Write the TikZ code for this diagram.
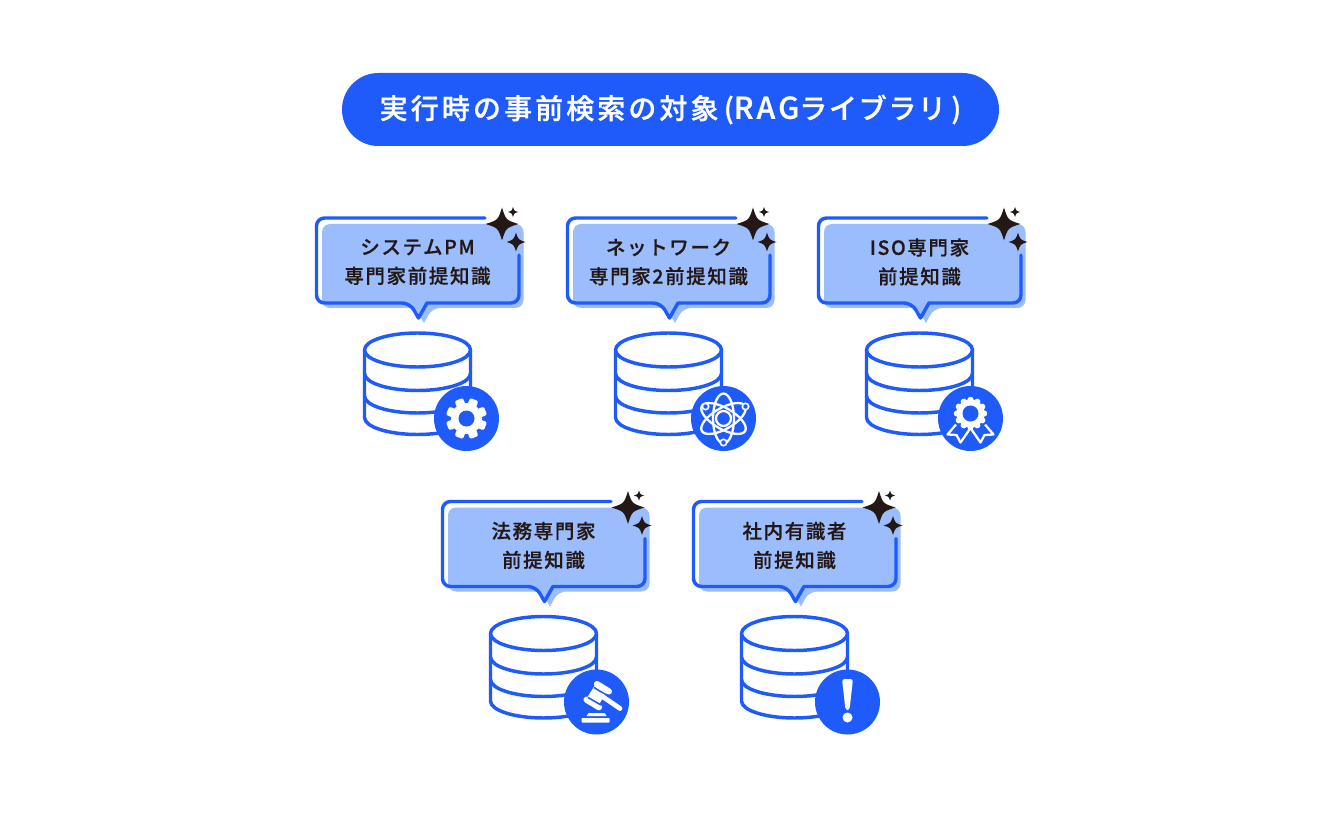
\documentclass[tikz,border=0pt]{standalone}
\usepackage{fontspec}
\setmainfont{Noto Sans CJK JP}
\newfontfamily\titlefont[LetterSpace=11,FakeBold=0.9]{Noto Sans CJK JP Medium}
\newfontfamily\titlekana[LetterSpace=6,FakeBold=0.9]{Noto Sans CJK JP Medium}
\newfontfamily\labelfont[LetterSpace=8.5,FakeBold=0.6]{Noto Sans CJK JP Medium}
\definecolor{mainblue}{HTML}{1F5BFA}
\definecolor{softblue}{HTML}{9BBDFD}
\definecolor{inkdark}{HTML}{231815}
\tikzset{
  titlepill/.style={fill=mainblue,text=white,rounded corners=27.3pt,minimum width=492.75pt,minimum height=54.75pt,inner sep=0pt,font=\titlefont\fontsize{21pt}{24pt}\selectfont},
  calltext/.style={align=center,text=inkdark,inner sep=0pt,font=\labelfont\fontsize{14.6pt}{21.75pt}\selectfont},
  outlinepath/.style={draw=mainblue,line width=2.6pt,line join=round,line cap=round},
  softfill/.style={fill=softblue},
  iconline/.style={draw=white,line width=1.7pt},
}
\newcommand{\sparkle}[3]{\fill[inkdark] (#1,#2-#3) .. controls (#1+.24*#3,#2-.24*#3) .. (#1+#3,#2) .. controls (#1+.24*#3,#2+.24*#3) .. (#1,#2+#3) .. controls (#1-.24*#3,#2+.24*#3) .. (#1-#3,#2) .. controls (#1-.24*#3,#2-.24*#3) .. cycle;}
\newcommand{\icongear}{
  \fill[white] (0,0) circle (15.5);
  \foreach \a in {0,45,...,315}{\fill[white,rotate=\a+22.5,rounded corners=1.5pt] (-4.5,-10) rectangle (4.5,-20.5);}
  \fill[mainblue] (0,0) circle (8);
}
\newcommand{\iconatom}{
  \foreach \a in {90,30,-30}{\draw[iconline,rotate=\a] (0,0) ellipse (25 and 10.5);}
  \draw[iconline,fill=mainblue] (0,0) circle (7.5);
  \foreach \p in {(-18,-12),(22,-12),(0,24)}{\draw[draw=white,line width=1.2pt,fill=mainblue] \p circle (3.2);}
}
\newcommand{\iconaward}{
  \draw[iconline,line join=round] (-14.5,6) -- (-23,16) -- (-14,16.5) -- (-10,24) -- (-1,11);
  \draw[iconline,line join=round] (14.5,6) -- (23,16) -- (14,16.5) -- (10,24) -- (1,11);
  \begin{scope}[shift={(0,-5)}]
  \foreach \a in {0,30,...,330}{\fill[white,rotate=\a] (0,-13.5) circle (3.2);}
  \fill[white] (0,0) circle (14);
  \fill[mainblue] (0,0) circle (8);
  \end{scope}
}
\newcommand{\icongavel}{
  \draw[white,line width=4.6pt,line cap=round] (0.5,-18) -- (12.5,-10.5);
  \draw[white,line width=4.6pt,line cap=round] (-10,-2.3) -- (2.5,5.3);
  \fill[white] (-1.5,-17) -- (10,-10) -- (2.5,2.5) -- (-9,-5) -- cycle;
  \draw[mainblue,line width=1.2pt] (-2.5,-14.5) -- (10.5,-6.5);
  \draw[mainblue,line width=1.2pt] (-8.5,-4.5) -- (4.5,3);
  \draw[white,line width=3.6pt,line cap=round] (4.5,-6.5) -- (23.5,6.5);
  \fill[white] (-10,14) -- (-8,11) -- (8,11) -- (10,14) -- cycle;
  \fill[white,rounded corners=.5pt] (-15,16) rectangle (13,20.5);
}
\newcommand{\iconbang}{
  \fill[white,rounded corners=2pt] (-5.5,-23) -- (5.5,-23) -- (2,8) -- (-2,8) -- cycle;
  \fill[white] (0,15.5) circle (5);
}
% #1 dx, #2 dy, #3 badge offset, #4 name, #5 #6 text, #7 icon
\newcommand{\ragunit}[7]{
\begin{scope}[shift={(#1,#2)}]
  \fill[softfill,rounded corners=6pt] (322,224) -- (523.5,224) -- (523.5,308) -- (432,308) [sharp corners] -- (424,323) -- (415,308) [rounded corners=6pt] -- (322,308) -- cycle;
  \draw[outlinepath] (485,218) [rounded corners=6pt] -- (316.5,218) -- (316.5,303) -- (410,303) [sharp corners] -- (418.5,318) -- (427,303) [rounded corners=6pt] -- (519,303) -- (519,255);
  \sparkle{502}{224}{16.5}
  \sparkle{516}{242}{9.5}
  \sparkle{513}{212}{5}
  \node[calltext] (#4text) at (417.5,262) {#5\\#6};
  \draw[outlinepath,line cap=butt] (364.5,350) -- (364.5,417.5) arc[start angle=180,end angle=0,x radius=53,y radius=17] -- (470.5,350);
  \draw[outlinepath] (417.5,350) ellipse[x radius=53,y radius=17];
  \draw[outlinepath] (364.5,373.5) arc[start angle=180,end angle=0,x radius=53,y radius=17];
  \draw[outlinepath] (364.5,396) arc[start angle=180,end angle=0,x radius=53,y radius=17];
  \fill[mainblue] (417.5+#3,418.5) circle (32.5);
  \begin{scope}[shift={(417.5+#3,418.5)}]
    #7
  \end{scope}
\end{scope}
}
\begin{document}
\begin{tikzpicture}[x=0.75pt,y=-0.75pt]
\useasboundingbox (0,0) rectangle (1340,820);
\node[titlepill] (title) at (670.5,109.5) {実行時の事前検索の対象\hspace{4pt}({\fontsize{22.5pt}{24pt}\selectfont RAG}{\titlekana ライブラリ}\hspace{4pt})};
\ragunit{0}{0}{49}{a}{システムPM}{専門家前提知識}{\icongear}
\ragunit{251}{0}{55}{b}{ネットワーク}{専門家2前提知識}{\iconatom}
\ragunit{502}{0}{51}{c}{ISO専門家}{前提知識}{\iconaward}
\ragunit{126}{283.5}{53}{d}{法務専門家}{前提知識}{\icongavel}
\ragunit{377}{283.5}{53}{e}{社内有識者}{前提知識}{\iconbang}
\end{tikzpicture}
\end{document}
